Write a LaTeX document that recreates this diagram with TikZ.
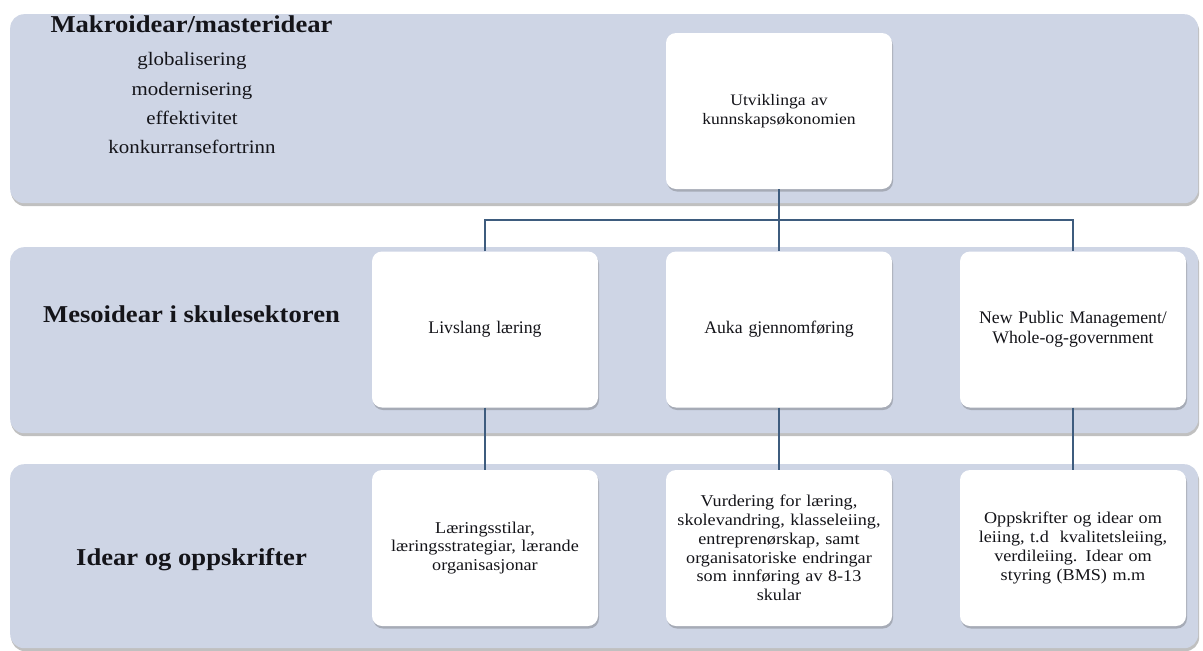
\documentclass[tikz,border=0pt]{standalone}
\usepackage{fontspec}
\setmainfont{Liberation Serif}
\newfontfamily\camfont{Liberation Serif}[FakeStretch=1.1]
\usetikzlibrary{shadows}
\definecolor{bandfill}{RGB}{206,213,229}
\definecolor{connline}{RGB}{62,92,126}
\definecolor{ink}{RGB}{20,20,25}
\begin{document}
\begin{tikzpicture}[x=1pt,y=-1pt,
  bandbox/.style={fill=bandfill, rounded corners=14pt, inner sep=0pt, anchor=north west,
    minimum width=1188pt,
    drop shadow={shadow xshift=1pt, shadow yshift=-3pt, opacity=0.35, fill=black!70}},
  whitebox/.style={fill=white, rounded corners=10pt, inner sep=4pt, align=center,
    minimum width=226pt, minimum height=156pt, text=ink, text width=214pt,
    drop shadow={shadow xshift=1pt, shadow yshift=-2.5pt, opacity=0.3, fill=black!70}},
  midtext/.style={font=\fontsize{17.7}{20}\selectfont},
  lowtext/.style={font=\camfont\fontsize{16.5}{18.7}\selectfont},
  toptext/.style={font=\camfont\fontsize{16}{18.5}\selectfont},
  headtext/.style={font=\camfont\bfseries\fontsize{24.2}{28}\selectfont, text=ink, anchor=base, inner sep=0pt},
  listtext/.style={font=\camfont\fontsize{19}{22}\selectfont, text=ink, anchor=base, inner sep=0pt},
  connector/.style={draw=connline, line width=1.7pt}
]
\useasboundingbox (0,0) rectangle (1203,651);
\fill[white] (0,0) rectangle (1203,651);

% bands
\node[bandbox, minimum height=189pt] (band1) at (10,14) {};
\node[bandbox, minimum height=186pt] (band2) at (10,247) {};
\node[bandbox, minimum height=184pt] (band3) at (10,464) {};

% band headings
\node[headtext] (h1) at (191.5,32) {Makroidear/masteridear};
\node[listtext] (l1) at (192,65) {globalisering};
\node[listtext] (l2) at (192,95) {modernisering};
\node[listtext] (l3) at (192,124) {effektivitet};
\node[listtext] (l4) at (192,153) {konkurransefortrinn};
\node[headtext] (h2) at (191.5,322) {Mesoidear i skulesektoren};
\node[headtext] (h3) at (191.5,565) {Idear og oppskrifter};

% boxes
\node[whitebox, toptext] (top) at (779,111) {Utviklinga av\\kunnskapsøkonomien};
\node[whitebox, midtext] (m1) at (485,329.5) {Livslang læring};
\node[whitebox, midtext] (m2) at (779,329.5) {Auka gjennomføring};
\node[whitebox, midtext] (m3) at (1073,329.5) {New Public Management/\\Whole-og-government};
\node[whitebox, lowtext] (b1) at (485,548) {Læringsstilar,\\læringsstrategiar, lærande\\organisasjonar};
\node[whitebox, lowtext] (b2) at (779,548) {Vurdering for læring,\\skolevandring, klasseleiing,\\entreprenørskap, samt\\organisatoriske endringar\\som innføring av 8-13\\skular};
\node[whitebox, lowtext] (b3) at (1073,548) {Oppskrifter og idear om\\leiing, t.d\ \ kvalitetsleiing,\\verdileiing. Idear om\\styring (BMS) m.m};

% connectors
\coordinate (hub) at (779,220);
\draw[connector] (top.south) -- (m2.north);
\draw[connector] (m1.north) |- (hub) -| (m3.north);
\draw[connector] (m1.south) -- (b1.north);
\draw[connector] (m2.south) -- (b2.north);
\draw[connector] (m3.south) -- (b3.north);
\end{tikzpicture}
\end{document}
